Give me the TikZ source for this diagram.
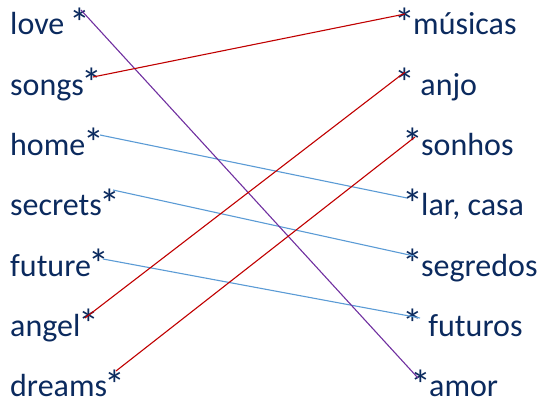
\documentclass[tikz,border=0pt]{standalone}
\usepackage{fontspec}
\usepackage{graphicx}
\setmainfont{Carlito}
\definecolor{navy}{HTML}{0B2A5E}
\definecolor{lpurple}{HTML}{7030A0}
\definecolor{lred}{HTML}{C00000}
\definecolor{lblue}{HTML}{5B9BD5}
\newcommand\bigast{\makebox[0.5em][c]{\raisebox{-0.07em}{\scalebox{1.3}{*}}}}
\begin{document}
\begin{tikzpicture}[x=1pt,y=-1pt,
  word/.style={anchor=base west,inner sep=0pt,text=navy,font=\fontsize{32}{38}\selectfont},
  link/.style={line width=1.1pt}]
\useasboundingbox (0,0) rectangle (539,403);
% left column
\node[word] (love) at (10,35) {love \bigast};
\node[word] (songs) at (10,95.3) {songs\bigast};
\node[word] (home) at (10,155.6) {home\bigast};
\node[word] (secrets) at (10,215.9) {secrets\bigast};
\node[word] (future) at (10,276.2) {future\bigast};
\node[word] (angel) at (10,336.5) {angel\bigast};
\node[word] (dreams) at (10,396.8) {dreams\bigast};
% right column
\node[word] (musicas) at (397,35) {\bigast músicas};
\node[word] (anjo) at (397,95.3) {\bigast\ anjo};
\node[word] (sonhos) at (405,155.6) {\bigast sonhos};
\node[word] (lar) at (405,215.9) {\bigast lar, casa};
\node[word] (segredos) at (405,276.2) {\bigast segredos};
\node[word] (futuros) at (405,336.5) {\bigast\ futuros};
\node[word] (amor) at (413,396.8) {\bigast amor};
% connector end points
\coordinate (pLove) at (81,10);
\coordinate (pAmor) at (418,378);
\coordinate (pSongs) at (93,77);
\coordinate (pMusicas) at (405,14);
\coordinate (pAngel) at (85,318);
\coordinate (pAnjo) at (405,72);
\coordinate (pDreams) at (116,371);
\coordinate (pSonhos) at (415,137);
\coordinate (pHome) at (100,135);
\coordinate (pLar) at (407,198);
\coordinate (pSecrets) at (113,190);
\coordinate (pSegredos) at (414,256);
\coordinate (pFuture) at (103,259);
\coordinate (pFuturos) at (420,318);
% connectors
\draw[link,lblue] (pHome) -- (pLar);
\draw[link,lblue] (pSecrets) -- (pSegredos);
\draw[link,lblue] (pFuture) -- (pFuturos);
\draw[link,lpurple] (pLove) -- (pAmor);
\draw[link,lred] (pSongs) -- (pMusicas);
\draw[link,lred] (pAngel) -- (pAnjo);
\draw[link,lred] (pDreams) -- (pSonhos);
\end{tikzpicture}
\end{document}
